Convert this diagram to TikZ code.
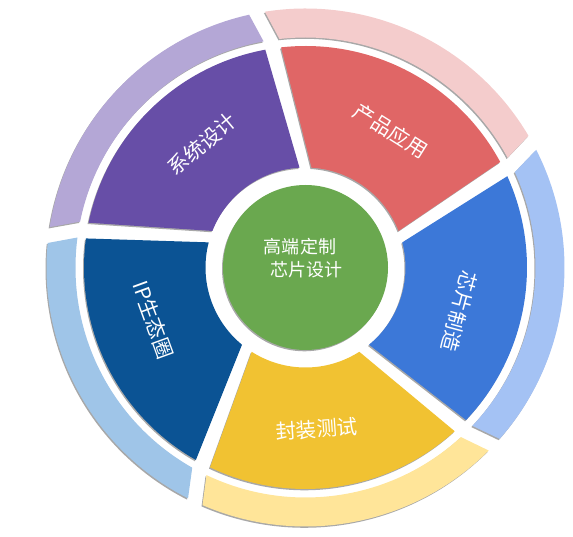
\documentclass[tikz,border=0pt]{standalone}
\usepackage{fontspec}
\newfontfamily\cjk{Noto Sans CJK SC}
\definecolor{cPurple}{HTML}{674EA7}
\definecolor{cLavender}{HTML}{B4A7D6}
\definecolor{cRed}{HTML}{E06666}
\definecolor{cPink}{HTML}{F4CCCC}
\definecolor{cBlue}{HTML}{3C78D8}
\definecolor{cBlueLt}{HTML}{A4C2F4}
\definecolor{cNavy}{HTML}{0B5394}
\definecolor{cSky}{HTML}{9FC5E8}
\definecolor{cYellow}{HTML}{F1C232}
\definecolor{cCream}{HTML}{FFE599}
\definecolor{cGreen}{HTML}{6AA84F}
\definecolor{cShadow}{HTML}{A8A8A8}
% #1 colour, #2 inner radius, #3 outer radius, #4 inner start, #5 outer start, #6 outer end, #7 inner end
\newcommand\ringseg[7]{%
  \fill[cShadow, shift={(-1pt,-1.3pt)}] (#4:#2) -- (#5:#3) arc[start angle=#5, end angle=#6, radius=#3] -- (#7:#2) arc[start angle=#7, end angle=#4, radius=#2] -- cycle;
  \fill[#1] (#4:#2) -- (#5:#3) arc[start angle=#5, end angle=#6, radius=#3] -- (#7:#2) arc[start angle=#7, end angle=#4, radius=#2] -- cycle;
}
\tikzset{
  lbl/.style={text=white, inner sep=0pt, font=\cjk\fontsize{20.5pt}{20.5pt}\selectfont},
  ctxt/.style={text=white, inner sep=0pt, font=\cjk\fontsize{18pt}{18pt}\selectfont}
}
\begin{document}
\begin{tikzpicture}
\useasboundingbox (-305.5pt,-269.5pt) rectangle (267.5pt,267.5pt);
% outer ring
\ringseg{cPink}{230pt}{259pt}{28.5}{30.57}{99.03}{96.5}
\ringseg{cLavender}{230pt}{259pt}{100.5}{102.57}{171.03}{168.5}
\ringseg{cSky}{230pt}{259pt}{172.5}{174.57}{243.03}{240.5}
\ringseg{cCream}{230pt}{259pt}{244.5}{246.57}{315.03}{312.5}
\ringseg{cBlueLt}{230pt}{259pt}{316.5}{318.57}{387.03}{384.5}
% inner segments
\ringseg{cRed}{100pt}{221.5pt}{21.44}{28.46}{96.34}{86.56}
\ringseg{cPurple}{100pt}{221.5pt}{93.44}{100.46}{168.34}{158.56}
\ringseg{cNavy}{100pt}{221.5pt}{165.44}{172.46}{240.34}{230.56}
\ringseg{cYellow}{100pt}{221.5pt}{237.44}{244.46}{312.34}{302.56}
\ringseg{cBlue}{100pt}{221.5pt}{309.44}{316.46}{384.34}{374.56}
% centre
\fill[cShadow] (-1pt,-1.3pt) circle[radius=82.5pt];
\node[circle, fill=cGreen, minimum size=165pt, inner sep=0pt] (hub) at (0,0) {};
\node[ctxt] (c1) at (-5.5pt,20.5pt) {高端定制};
\node[ctxt] (c2) at (1.5pt,-2.5pt) {芯片设计};
% labels
\node[lbl, rotate=-32] (tRed) at (58:161pt) {产品应用};
\node[lbl, rotate=40] (tPurple) at (130:161pt) {系统设计};
\node[lbl, rotate=-70] (tNavy) at (199:161pt) {IP生态圈};
\node[lbl, rotate=4] (tYellow) at (274:162pt) {封装测试};
\node[lbl, rotate=-105] (tBlue) at (344:160pt) {芯片制造};
\end{tikzpicture}
\end{document}
